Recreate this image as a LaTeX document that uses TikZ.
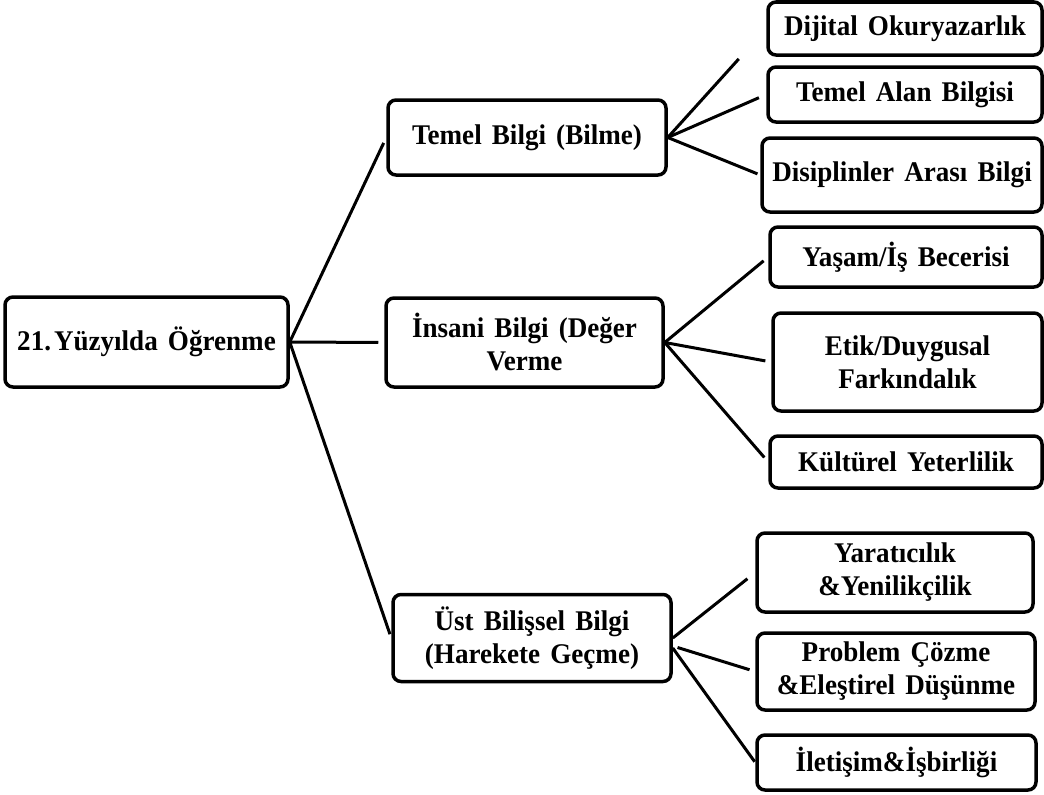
\documentclass[tikz,border=0pt]{standalone}
\usepackage{fontspec}
\setmainfont{Liberation Serif}[FakeStretch=0.95, WordSpace=1.5]
\begin{document}
\begin{tikzpicture}[x=1pt,y=-1pt,
  box/.style={draw=black, line width=3.5pt, rounded corners=8pt, fill=white,
    inner sep=0pt, align=center, font=\bfseries\fontsize{28.5}{33}\selectfont},
  link/.style={line width=3pt, shorten >=6pt}]
\useasboundingbox (0,0) rectangle (1044,795);

% root and the three main branches
\node[box, minimum width=283pt, minimum height=90pt] (root) at (146.5,342) {21.\hspace{3pt}Yüzyılda Öğrenme};
\node[box, minimum width=278pt, minimum height=75pt] (temel) at (527,137.5) {Temel Bilgi (Bilme)};
\node[box, minimum width=277pt, minimum height=89pt] (insani) at (524.5,342.5) {İnsani Bilgi (Değer\\Verme};
\node[box, minimum width=278pt, minimum height=87pt] (ust) at (532,638) {Üst Bilişsel Bilgi\\(Harekete Geçme)};

% leaves of the first branch
\node[box, minimum width=274pt, minimum height=53pt] (dijital) at (905,28.5) {Dijital Okuryazarlık};
\node[box, minimum width=274pt, minimum height=55pt] (alan) at (905,94.5) {Temel Alan Bilgisi};
\node[box, minimum width=280pt, minimum height=74pt] (disiplin) at (902,175) {Disiplinler Arası Bilgi};

% leaves of the second branch
\node[box, minimum width=272pt, minimum height=60pt] (yasam) at (906,257) {Yaşam/İş Becerisi};
\node[box, minimum width=269pt, minimum height=98pt] (etik) at (907.5,362) {Etik/Duygusal\\Farkındalık};
\node[box, minimum width=272pt, minimum height=52pt] (kultur) at (906,462) {Kültürel Yeterlilik};

% leaves of the third branch
\node[box, minimum width=276pt, minimum height=79pt] (yarat) at (895,572.5) {Yaratıcılık\\\&Yenilikçilik};
\node[box, minimum width=278pt, minimum height=77pt] (problem) at (896,671.5) {Problem Çözme\\\&Eleştirel Düşünme};
\node[box, minimum width=279pt, minimum height=55pt] (iletisim) at (896.5,762.5) {İletişim\&İşbirliği};

% connectors
\draw[link] (root.east) -- (temel.west);
\draw[link] (root.east) -- (insani.west);
\draw[link, shorten >=4pt] (root.east) -- (ust.west);

\draw[link, shorten >=41pt] (temel.east) -- (dijital.west);
\draw[link, shorten >=8pt] (temel.east) -- (alan.west);
\draw[link, shorten >=3pt] (temel.east) -- (disiplin.west);

\draw[link] (insani.east) -- (yasam.west);
\draw[link] (insani.east) -- (etik.west);
\draw[link] (insani.east) -- (kultur.west);

\draw[link, shorten >=10pt] (ust.east) -- (yarat.west);
\draw[link, shorten <=5pt] ([yshift=-8pt]ust.east) -- (problem.west);
\draw[link, shorten >=1pt] ([yshift=-10pt]ust.east) -- (iletisim.west);
\end{tikzpicture}
\end{document}
